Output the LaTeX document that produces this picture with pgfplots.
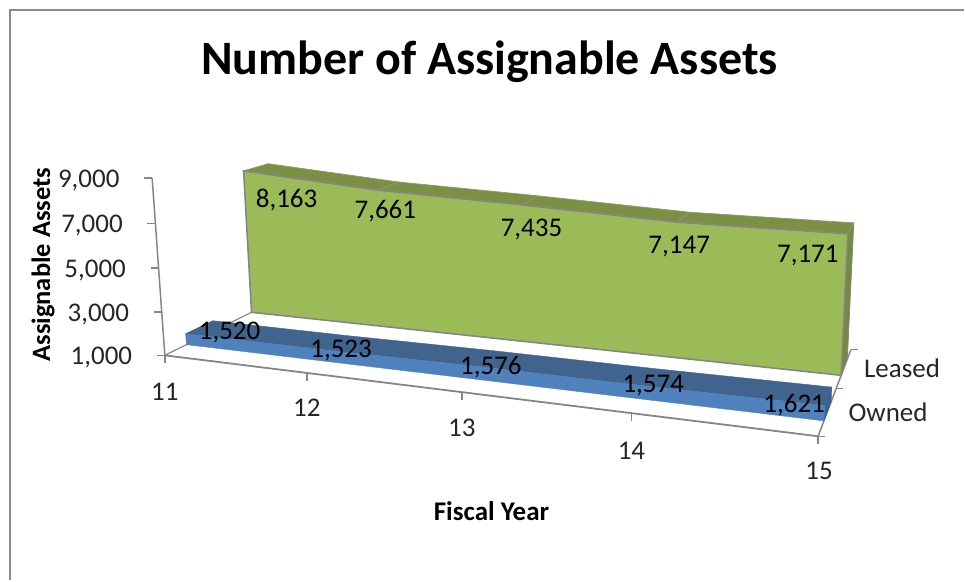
\documentclass[border=0pt]{standalone}
\usepackage{pgfplots}
\usepackage{pgfplotstable}
\usepackage{fontspec}
\setmainfont{Carlito}
\pgfplotsset{compat=1.18}

% Perspective projection of (year position, depth, height) to the drawing plane
\pgfmathdeclarefunction{WW}{3}{\pgfmathparse{1-0.1665*#1+0.187*#2-0.03*#3}}
\pgfmathdeclarefunction{UU}{3}{\pgfmathparse{(165+517.6*#1+186.6*#2-8*#2*(1-#1)-17.27*#3)/WW(#1,#2,#3)}}
\pgfmathdeclarefunction{VV}{3}{\pgfmathparse{(355.7+8.3*#1-6.8*#2-182.75*#3)/WW(#1,#2,#3)}}

\definecolor{wallgreen}{HTML}{9BBB59}
\definecolor{topgreen}{HTML}{7B8F45}
\definecolor{sidegreen}{HTML}{748A3F}
\definecolor{ridgegreen}{HTML}{8E9E62}
\definecolor{frontblue}{HTML}{4F81BD}
\definecolor{topblue}{HTML}{41648F}
\definecolor{sideblue}{HTML}{3C5F8C}
\definecolor{axisgray}{HTML}{868686}
\definecolor{framegray}{HTML}{8A8A8A}
\definecolor{inkgray}{HTML}{262626}

% Leased series
\pgfplotstableread{
year assets side
11 8163 0
12 7661 0
13 7435 0
14 7147 0
15 7171 0
15 1000 0
11 1000 0
}\leasedFront
\pgfplotstableread{
year assets side
11 8163 0
12 7661 0
13 7435 0
14 7147 0
15 7171 0
15 7171 1
14 7147 1
13 7435 1
12 7661 1
11 8163 1
}\leasedTop
\pgfplotstableread{
year assets side
15 7171 0
15 7171 1
15 1000 1
15 1000 0
}\leasedEnd
\pgfplotstableread{
year assets dx dy
11 8163 43 29
12 7661 8 21
13 7435 10 25
14 7147 1.5 24
15 7171 -40 22
}\leasedLabels

% Owned series
\pgfplotstableread{
year assets side
11 1520 0
12 1523 0
13 1576 0
14 1574 0
15 1621 0
15 1000 0
11 1000 0
}\ownedFront
\pgfplotstableread{
year assets side
11 1520 0
12 1523 0
13 1576 0
14 1574 0
15 1621 0
15 1621 1
14 1574 1
13 1576 1
12 1523 1
11 1520 1
}\ownedTop
\pgfplotstableread{
year assets side
15 1621 0
15 1621 1
15 1000 1
15 1000 0
}\ownedEnd
\pgfplotstableread{
year assets dx dy
11 1520 44 -1.5
12 1523 16 0.5
13 1576 14 0.5
14 1574 10.6 0
15 1621 -30.5 0
}\ownedLabels

% Axis scales
\pgfplotstableread{
year assets dx dy
11 1000 -32 2
11 3000 -32 2
11 5000 -32 2
11 7000 -32 2
11 9000 -32 2
}\valueTicks
\pgfplotstableread{
year assets dx dy
11 1000 0 37
12 1000 0 35
13 1000 0 35.5
14 1000 0 37.5
15 1000 1 35
}\yearTicks
\pgfplotstableread{
depth year
0 15
0.5 15
1 15
}\depthTicks
\pgfplotstableread{
depth year
0 11
0.66 11
}\floorEdge

\newcommand\faceplot[4]{%
  \addplot[#1] table[
    x expr={UU((\thisrow{year}-11)/4,#3+\thisrow{side}*(#4-#3),(\thisrow{assets}-1000)/8000)},
    y expr={VV((\thisrow{year}-11)/4,#3+\thisrow{side}*(#4-#3),(\thisrow{assets}-1000)/8000)}
  ]{#2} -- cycle;}
\newcommand\ridge[2]{%
  \addplot[ridgegreen,line width=0.9pt] table[
    row sep=\\,
    x expr={UU((\thisrow{year}-11)/4,0.66+\thisrow{side}*0.21,(\thisrow{assets}-1000)/8000)},
    y expr={VV((\thisrow{year}-11)/4,0.66+\thisrow{side}*0.21,(\thisrow{assets}-1000)/8000)}
  ]{year assets side\\ #1 #2 0\\ #1 #2 1\\};}

\pgfdeclareplotmark{valuetick}{\pgfpathmoveto{\pgfpoint{0pt}{0pt}}\pgfpathlineto{\pgfpoint{-8pt}{0pt}}\pgfusepathqstroke}
\pgfdeclareplotmark{yeartick}{\pgfpathmoveto{\pgfpoint{0pt}{0pt}}\pgfpathlineto{\pgfpoint{0pt}{-8pt}}\pgfusepathqstroke}
\pgfdeclareplotmark{depthtick}{\pgfpathmoveto{\pgfpoint{0pt}{0pt}}\pgfpathlineto{\pgfpoint{7pt}{0pt}}\pgfusepathqstroke}

% Number labels placed relative to their point by the table's dx and dy columns
\pgfplotsset{
  shifted labels/.style 2 args={
    point meta=explicit,
    visualization depends on={\thisrow{dx}\as\shiftx},
    visualization depends on={\thisrow{dy}\as\shifty},
    nodes near coords,
    every node near coord/.append style={anchor=#1,inner sep=0pt,xshift=\shiftx pt,yshift=-\shifty pt,font=\fontsize{27}{30}\selectfont,text=#2},
  },
}

\begin{document}
\begin{tikzpicture}
\begin{axis}[
  scale only axis,
  width=965pt,height=581pt,
  xmin=0,xmax=965,ymin=0,ymax=581,
  y dir=reverse,
  axis lines=none,
  clip=false,
  /pgf/number format/.cd,fixed,1000 sep={,},assume math mode=true,
  /pgfplots/.cd,
]
% page extent
\path (axis cs:0,0) rectangle (axis cs:965,581);

% chart frame
\draw[framegray,line width=2pt] (axis cs:10,581) -- (axis cs:10,10.5) -- (axis cs:965,10.5);

% titles
\node[font=\bfseries\fontsize{48}{52}\selectfont,text=black] at (axis cs:490,62) {Number of Assignable Assets};
\node[font=\bfseries\fontsize{27}{30}\selectfont,text=black] at (axis cs:492,512) {Fiscal Year};
\node[font=\bfseries\fontsize{26.5}{30}\selectfont,text=black,rotate=90] at (axis cs:43,265) {Assignable Assets};
\node[font=\fontsize{27}{30}\selectfont,text=inkgray] at (axis cs:903,369) {Leased};
\node[font=\fontsize{27}{30}\selectfont,text=inkgray] at (axis cs:889,413) {Owned};

% value axis
\addplot[axisgray,line width=1.5pt] table[
  x expr={UU(0,0,(\thisrow{assets}-1000)/8000)},
  y expr={VV(0,0,(\thisrow{assets}-1000)/8000)}
]{\valueTicks};
\addplot[axisgray,line width=1.5pt,only marks,mark=valuetick,
  shifted labels={east}{inkgray},
] table[
  meta=assets,
  x expr={UU(0,0,(\thisrow{assets}-1000)/8000)},
  y expr={VV(0,0,(\thisrow{assets}-1000)/8000)},
]{\valueTicks};

% fiscal year axis
\addplot[axisgray,line width=1.8pt] table[
  x expr={UU((\thisrow{year}-11)/4,0,0)},
  y expr={VV((\thisrow{year}-11)/4,0,0)}
]{\yearTicks};
\addplot[axisgray,line width=1.5pt,only marks,mark=yeartick,
  shifted labels={center}{inkgray},
] table[
  meta=year,
  x expr={UU((\thisrow{year}-11)/4,0,0)},
  y expr={VV((\thisrow{year}-11)/4,0,0)}
]{\yearTicks};

% depth axis, at both ends of the floor
\addplot[axisgray,line width=1.5pt] table[
  x expr={UU(1,\thisrow{depth},0)},
  y expr={VV(1,\thisrow{depth},0)}
]{\depthTicks};
\addplot[axisgray,line width=1.5pt,only marks,mark=depthtick] table[
  x expr={UU(1,\thisrow{depth},0)},
  y expr={VV(1,\thisrow{depth},0)}
]{\depthTicks};
\addplot[axisgray,line width=1.2pt] table[
  x expr={UU(0,\thisrow{depth},0)},
  y expr={VV(0,\thisrow{depth},0)}
]{\floorEdge};

% leased block
\faceplot{fill=sidegreen,draw=axisgray,line width=0.8pt}{\leasedEnd}{0.66}{0.87}
\faceplot{fill=topgreen,draw=ridgegreen,line width=0.8pt}{\leasedTop}{0.66}{0.87}
\ridge{12}{7661}
\ridge{13}{7435}
\ridge{14}{7147}
\faceplot{fill=wallgreen,draw=axisgray,line width=1.6pt}{\leasedFront}{0.66}{0.87}

% owned block, each face stroked in its own colour so that the seams close
\faceplot{fill=sideblue,draw=sideblue,line width=0.4pt}{\ownedEnd}{0.15}{0.35}
\faceplot{fill=topblue,draw=topblue,line width=0.4pt}{\ownedTop}{0.15}{0.35}
\faceplot{fill=frontblue,draw=frontblue,line width=0.4pt}{\ownedFront}{0.15}{0.35}

% data labels
\addplot[draw=none,mark=none,shifted labels={center}{black}] table[
  meta=assets,
  x expr={UU((\thisrow{year}-11)/4,0.66,(\thisrow{assets}-1000)/8000)},
  y expr={VV((\thisrow{year}-11)/4,0.66,(\thisrow{assets}-1000)/8000)}
]{\leasedLabels};
\addplot[draw=none,mark=none,shifted labels={center}{black}] table[
  meta=assets,
  x expr={UU((\thisrow{year}-11)/4,0.15,(\thisrow{assets}-1000)/8000)},
  y expr={VV((\thisrow{year}-11)/4,0.15,(\thisrow{assets}-1000)/8000)}
]{\ownedLabels};
\end{axis}
\end{tikzpicture}
\end{document}
